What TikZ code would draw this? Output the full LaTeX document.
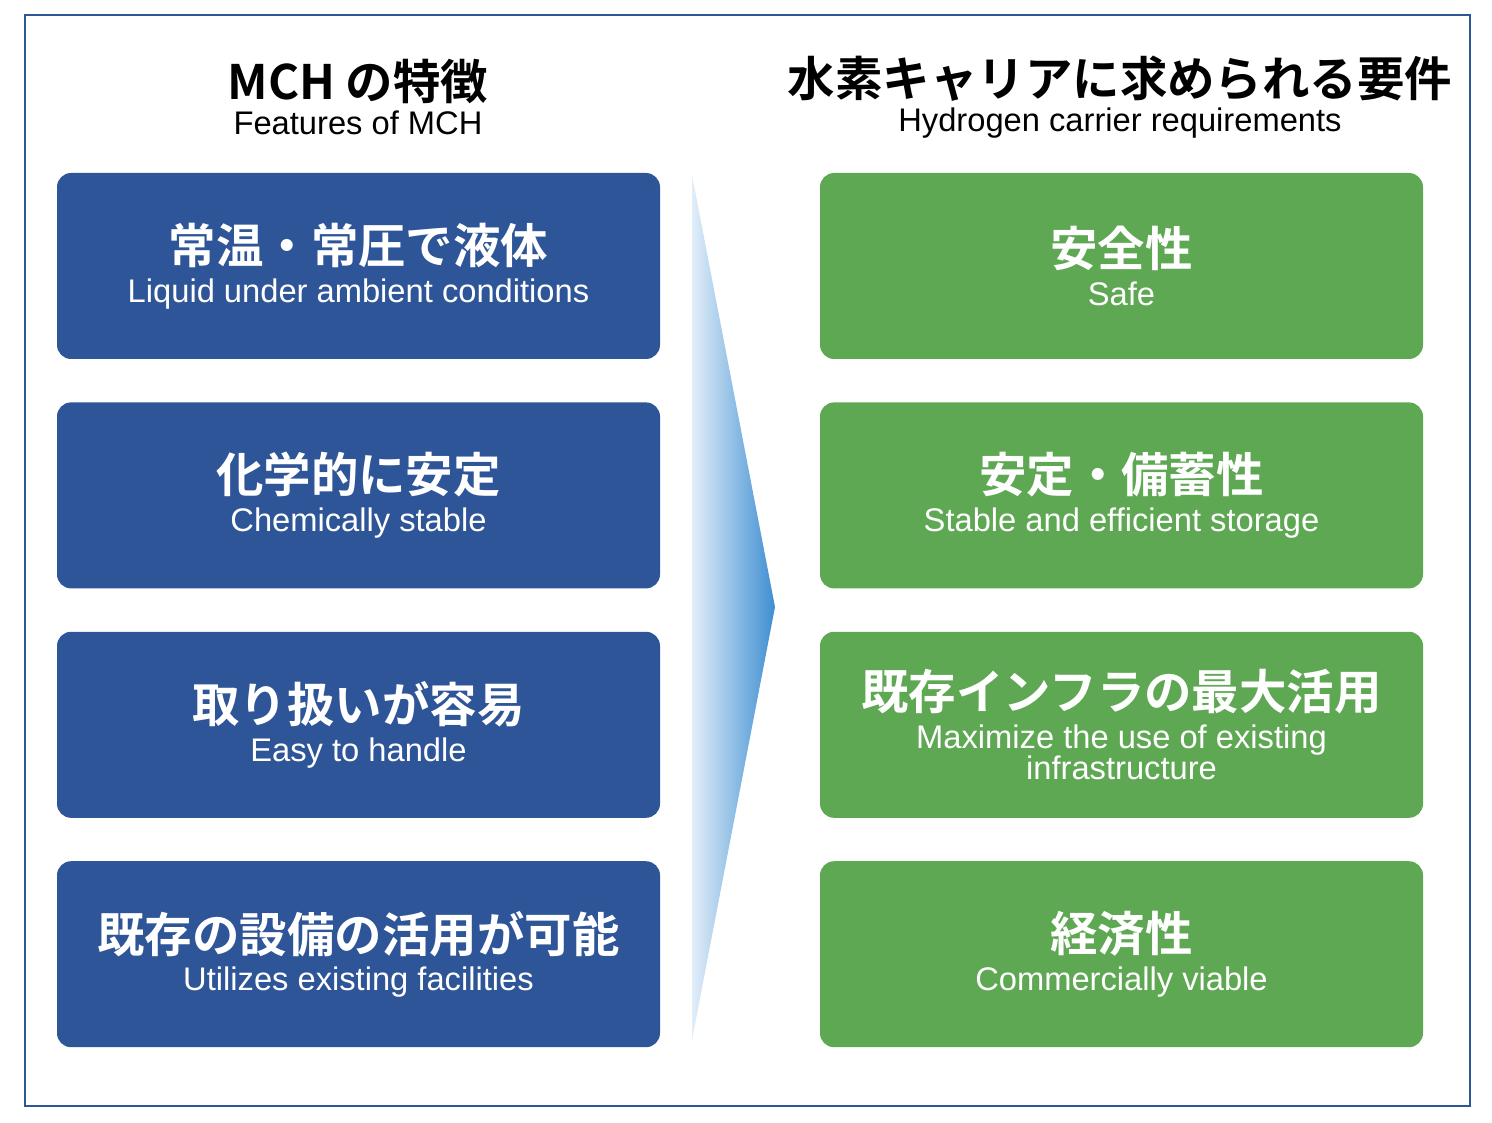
\documentclass[tikz,border=0pt]{standalone}
\usepackage{fontspec}
\setmainfont{Liberation Sans}
\newfontfamily\jpfont{Noto Sans CJK JP}[BoldFont={* Bold}]
\usetikzlibrary{positioning}
\definecolor{mchblue}{HTML}{2E5597}
\definecolor{reqgreen}{HTML}{5FA853}
\definecolor{arrowblue}{HTML}{3E8ED2}
\tikzset{
  feat/.style={fill=mchblue,rounded corners=4pt,minimum width=6.03cm,minimum height=1.86cm,text=white,align=center},
  req/.style={fill=reqgreen,rounded corners=4pt,minimum width=6.03cm,minimum height=1.86cm,text=white,align=center},
}
\newcommand{\jp}[1]{{\jpfont\bfseries\fontsize{13.5}{15}\selectfont #1}}
\newcommand{\en}[1]{{\fontsize{9.3}{10.5}\selectfont #1}}
\begin{document}
\begin{tikzpicture}
\useasboundingbox (0,0) rectangle (14.92,11.22);
\draw[mchblue,line width=0.8pt] (0.25,0.16) rectangle (14.70,11.07);

% headers
\node[align=center] (lhead) at (3.58,10.25) {\jp{MCH の特徴}\\[-2pt]\en{Features of MCH}};
\node[align=center] (rhead) at (11.20,10.25) {\jp{水素キャリアに求められる要件}\\[-2pt]\en{Hydrogen carrier requirements}};

% features
\node[feat] (f1) at (3.585,8.56) {\jp{常温・常圧で液体}\\[-1pt]\en{Liquid under ambient conditions}};
\node[feat,below=0.42cm of f1] (f2) {\jp{化学的に安定}\\[-1pt]\en{Chemically stable}};
\node[feat,below=0.42cm of f2] (f3) {\jp{取り扱いが容易}\\[-1pt]\en{Easy to handle}};
\node[feat,below=0.42cm of f3] (f4) {\jp{既存の設備の活用が可能}\\[-1pt]\en{Utilizes existing facilities}};

% requirements
\node[req] (r1) at (11.215,8.56) {\jp{安全性}\\[-1pt]\en{Safe}};
\node[req,below=0.42cm of r1] (r2) {\jp{安定・備蓄性}\\[-1pt]\en{Stable and efficient storage}};
\node[req,below=0.42cm of r2] (r3) {\jp{既存インフラの最大活用}\\[-1pt]\en{Maximize the use of existing}\\[-3pt]\en{infrastructure}};
\node[req,below=0.42cm of r3] (r4) {\jp{経済性}\\[-1pt]\en{Commercially viable}};

% arrow
\shade[left color=arrowblue!15,right color=arrowblue] (6.92,9.47) -- (7.75,5.15) -- (6.92,0.82) -- cycle;
\end{tikzpicture}
\end{document}
